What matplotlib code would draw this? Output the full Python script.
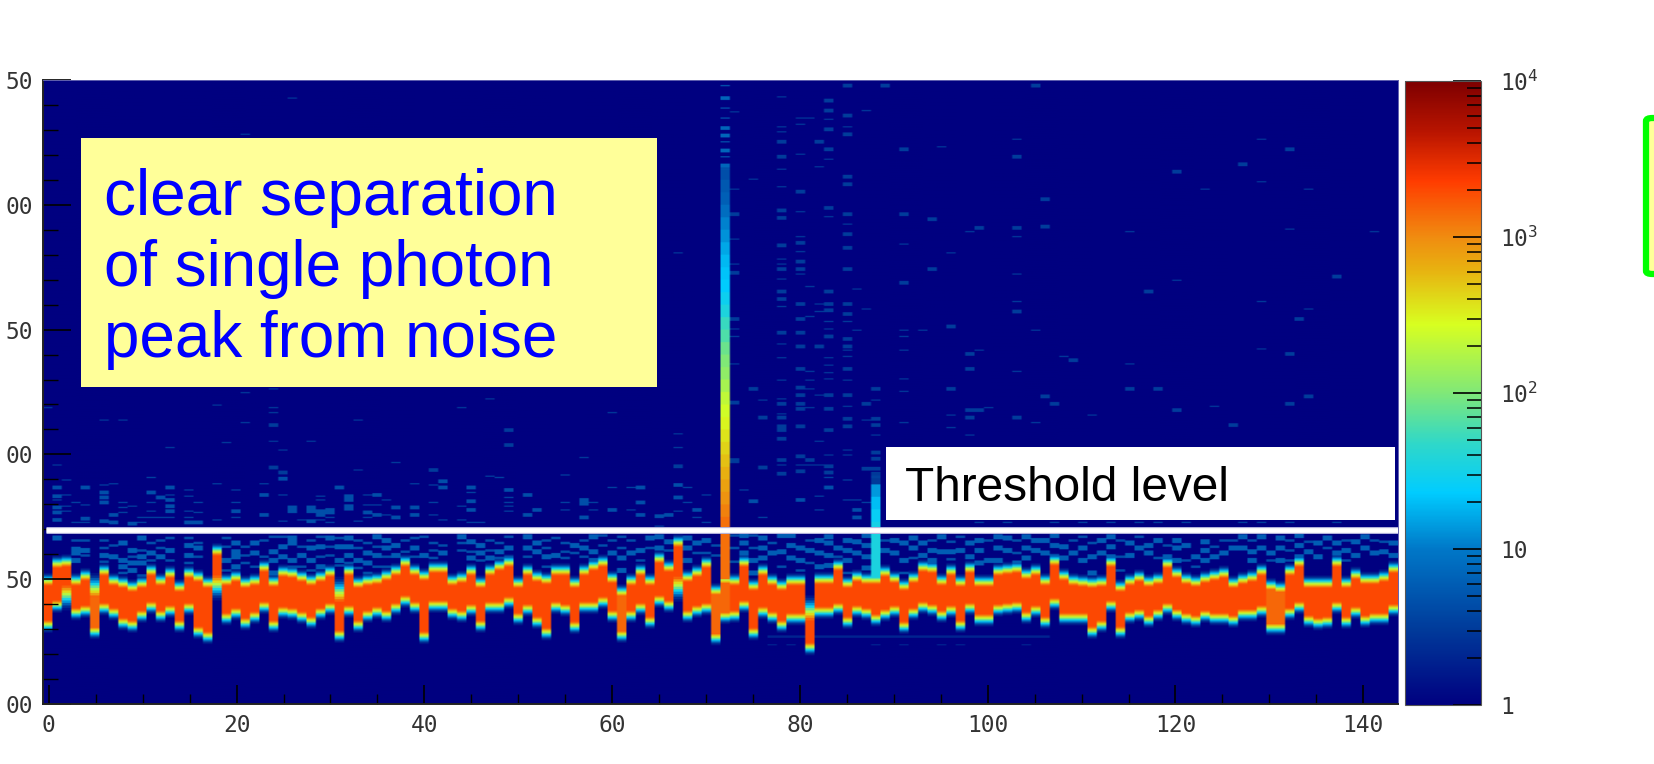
import numpy as np
import matplotlib
matplotlib.use('Agg')
import matplotlib.pyplot as plt
from matplotlib.colors import LinearSegmentedColormap, LogNorm
from matplotlib.patches import Rectangle, FancyBboxPatch
from matplotlib.ticker import LogLocator, MultipleLocator, NullFormatter

# --- data -------------------------------------------------------
band_top = [147.7,154.4,155.0,147.7,149.7,142.4,151.7,147.7,146.4,145.0,146.4,151.7,147.3,150.4,145.0,150.4,
            149.0,146.4,159.7,147.3,149.0,146.4,147.7,153.0,147.0,151.0,150.4,149.0,147.3,149.0,151.0,141.0,
            151.7,146.4,147.7,148.1,149.7,151.7,155.0,151.7,149.7,152.4,152.4,147.7,148.4,151.7,146.4,151.7,
            153.7,154.8,146.4,151.3,149.0,148.1,151.7,151.7,146.4,151.7,153.7,155.0,148.4,143.0,147.7,151.7,
            147.3,156.4,153.0,163.0,149.0,151.0,154.4,143.7,148.0,147.7,155.0,145.7,151.7,147.7,145.7,147.3,
            147.7,133.7,148.1,148.1,153.7,146.4,149.0,148.1,148.1,151.0,148.7,145.5,148.7,153.0,152.4,147.3,
            151.7,146.8,152.4,147.0,147.0,151.3,152.1,152.6,150.0,151.7,147.3,155.7,149.7,147.3,147.0,146.4,
            147.0,155.0,145.0,147.7,149.2,147.0,148.1,154.4,150.4,148.1,147.0,148.7,149.7,150.4,146.4,148.1,
            149.0,151.7,145.7,144.4,151.7,155.0,146.4,146.4,146.4,155.0,146.4,150.0,148.1,148.1,149.0,152.4]
band_bot = [133.7,141.7,147.7,138.4,139.7,131.0,140.4,138.4,134.4,133.7,137.7,141.0,137.7,139.7,133.7,140.4,
            131.0,129.0,151.7,136.4,138.4,134.4,137.0,141.0,133.7,139.0,138.4,137.0,135.0,138.4,140.4,129.7,
            139.7,133.7,137.7,139.0,137.7,140.6,143.7,141.0,129.0,141.4,141.7,138.4,137.7,140.1,133.7,141.0,
            141.0,143.0,136.4,140.1,135.0,130.4,141.0,140.1,133.0,141.0,141.0,143.0,137.7,129.7,137.7,140.4,
            135.0,143.7,141.7,151.0,137.7,139.7,140.4,128.3,137.0,137.7,141.7,130.4,139.0,137.0,133.7,136.6,
            136.6,124.3,139.0,139.0,140.4,135.0,139.7,138.4,136.1,138.0,139.3,133.0,138.4,141.0,140.1,137.7,
            139.3,133.7,140.4,136.1,136.1,140.1,140.4,141.0,137.0,139.7,135.0,142.4,136.6,136.6,136.6,131.0,
            133.7,141.7,131.0,137.2,138.0,135.7,138.0,140.4,138.0,136.6,135.7,137.7,136.6,136.6,135.7,138.0,
            138.0,139.3,132.4,132.4,138.4,141.0,135.3,134.4,135.0,141.0,135.0,139.0,135.7,136.6,136.6,140.1]
core_count = 2000
dull_count = 1450
dull_cols = [5, 61, 71, 72, 130, 131]
edge_counts = [1500, 800, 400, 180, 80, 32, 14, 6, 2.5, 1.5]
slow_top = [5, 31, 81]
slow_bot = [2, 18, 67]

# bright channel 72, steps of 5 starting at 150
spike_col = 72
spike_start = 150
spike_counts = [1320,1320,1320,1320,1320,1100,912,760,630,525,437,363,302,251,209,158,120,100,83,63,52,36,28,23,21,19,16,13,11,8.3,6.3,5.5,4.5]
spike_thin = [347.5,338.5,334.5,325,319,314]
spike_thick = [342.5,330.5,327.5,321.5,315.5]
# weaker channel 88
spike2_col = 88
spike2_y = [148,153,158,163,168,173,178,183,188]
spike2_counts = [35,35,35,35,32,26,20,14,3]

upper_thin = {
 0:[218.5], 1:[195.5,181.5], 2:[189.5,183.5,179,177], 3:[180.5,172.5], 4:[179.5,172.5], 6:[213.5,187.5], 7:[188],
 8:[213.5,180.5,178.5,176.5], 9:[179], 10:[174.5,172.5], 11:[190.5,180.5,177,174.5], 12:[174.5], 13:[202.5,183.5,174.5],
 15:[185.5,183,177,174.5], 16:[180.5,176.5], 18:[219.5,188,173.5], 19:[204.5], 20:[185.5,180.5,174.5], 21:[328,224.5,212.5],
 23:[188], 24:[226,218.5,216.5,205], 25:[201.5,183.5,173], 26:[342.5], 27:[173.5], 28:[205], 29:[183,181.5,173.5],
 30:[174.5,172.5], 33:[213.5,193.5,173], 34:[183.5,179.5,174.5], 35:[179.5], 36:[181.5,175.5], 37:[196.5], 39:[188],
 41:[187.5,180.5,175.5], 42:[173.5], 44:[218.5,179,173.5], 45:[184.5,172.5], 46:[172.5], 47:[222,191], 48:[190.5],
 49:[182.5,180.5,179,177], 55:[191.5,180.5,177.5], 57:[198.5], 58:[180.5,177.5], 60:[216.5,186.5,177.5],
 62:[186.5,177.5], 65:[171], 67:[280.5,208,202.5,177], 68:[186.5,180.5], 69:[174.5], 70:[183.5,172.5],
 73:[337,306,286,276,250,247,236,196.5], 74:[185.5], 75:[310], 76:[221.5,174.5],
 78:[343,331,329,314,307,278,276,270,259,244,238.5,229.5,222,216,195.5],
 80:[334.5,332,320,297,287,281,272,195.5], 81:[334.5,267,255,233,229.5,226,218.5,195.5],
 82:[315,260,257,223.5,205,195.5,183,177.5],
 83:[334,318,295,253,250,238.5,235.5,232.5,230,199.5,190.5],
 85:[331,292,253,241.5,239,229.5,219,201.5,199.5,189.5,181.5], 86:[266,249.5,181.5], 87:[337.5,258,213.5,180.5],
 88:[221.5,207.5,191,190.5], 91:[284,249.5,247,241.5,230,225,212.5], 93:[249.5], 95:[323],
 96:[280.5,215.5,210.5], 98:[289,207.5], 99:[241.5,172.5], 100:[218.5], 102:[172.5],
 103:[326,287,272,261,233], 105:[249.5,212.5], 107:[172.5], 108:[239], 110:[172.5], 111:[215.5], 113:[172.5],
 115:[289,236], 116:[172.5], 118:[172.5], 120:[269.5], 121:[172.5], 123:[306], 124:[219], 127:[172.5],
 129:[326,309,261,242,172.5], 132:[290,172.5], 134:[306,258], 137:[172.5], 141:[289],
}
upper_thick = {
 1:[186.5,183,178.5,176.5,173.5], 4:[186.5,174], 6:[184.5,182.5,180.5,173], 7:[175.5,172.5], 9:[172], 11:[184.5],
 12:[182.5], 13:[186.5,181.5,179,177], 15:[172.5], 16:[172.5], 20:[177], 23:[183.5,175.5], 24:[211.5,194.5],
 25:[192.5,190], 26:[178.5,177], 28:[178.5,177,173], 29:[177,175.5], 30:[177.5,176.5], 31:[186.5], 32:[183,181.5,179,178],
 34:[176.5], 35:[183.5,175.5], 37:[178.5,174.5], 39:[178.5,175.5], 41:[193.5], 42:[189,186.5], 45:[186.5,181,177.5],
 49:[209.5,203.5,185.5], 51:[183.5,175.5], 52:[177.5], 57:[181.5,180,174.5], 60:[177.5], 63:[186.5,180.5,175.5],
 65:[175], 66:[175.5], 67:[195,187.5,182.5], 69:[177.5], 73:[296,272.5,254,220.5,197.5], 75:[226,181], 76:[214.5,194.5],
 78:[325,319,297.5,294.5,283.5,274,265,262,248.5,220,214.5,211,209.5,206,197.5,192],
 80:[305,284.5,277,274,260,254,248.5,243,234,226.5,223.5,220,218,211,199,193,181.5],
 81:[197.5], 82:[325,243], 83:[341.5,337.5,330,322,298.5,265,260,257.5,247,223.5,218,209.5,195,192.5,186.5],
 85:[347.5,335.5,328,311,308,296,288,282.5,274,260,256,246,243,234,223.5,214,211], 86:[177.5,174.5], 87:[220,194],
 88:[226,214,211.5,200.5,198,194,181], 89:[347.5], 91:[322,296,268.5], 94:[294,274], 96:[251,226],
 98:[240,234,217.5,214.5], 99:[290.5,217.5], 103:[319,290.5,257,214.5], 105:[347.5], 106:[302,291,223], 107:[220],
 109:[237.5], 115:[226], 117:[265], 118:[226], 120:[313,217.5], 126:[211.5], 127:[316], 132:[322,240,220], 133:[254],
 134:[223], 137:[271],
}
low_thin = {
 3:[165.5], 4:[165.5,159.5], 6:[165.5,162.5,157], 7:[163.5], 8:[152.5], 9:[159], 10:[161.5,151.5], 11:[164.5,157.5],
 12:[165.5,162.5], 13:[166.5,157.5], 15:[166.5,156.5], 16:[164.5,159], 19:[166.5,163,153.5], 21:[163,159.5,156.5],
 22:[155], 23:[165.5,159], 24:[167], 25:[167], 26:[155], 27:[163,155], 28:[165.5,153.5], 29:[167,159], 30:[163,159.5],
 31:[166.5,155.5], 32:[156.5], 33:[165.5,162.5,154.5], 34:[164.5,152.5], 35:[163,155], 36:[159,155], 38:[165.5,161],
 39:[166.5,159], 40:[167], 41:[164.5,161.5,158.5], 42:[163.5], 44:[164.5,161.5], 45:[161], 46:[157.5], 47:[165.5,161.5],
 48:[164.5,158.5], 49:[167,159], 51:[159], 53:[165.5,162.5,155], 54:[166.5], 55:[164.5,161,158.5], 56:[160.5],
 57:[165.5,159], 59:[167.5,163.5], 60:[165.5], 61:[167,162.5], 62:[165.5], 63:[157.5], 64:[162.5], 66:[161.5],
 69:[160.5], 70:[160.5], 71:[163.5,159.5], 73:[167.5,162.5,157], 75:[167.5,162.5], 76:[155], 77:[164.5], 78:[155],
 80:[153.5], 81:[165.5,156.5], 82:[151.5], 84:[159], 85:[152.5], 89:[165.5], 91:[152.5], 92:[158.5], 94:[165.5],
 96:[165,158], 97:[167], 100:[165.5], 103:[165.5,160.5], 109:[165.5], 110:[167], 111:[164.5], 114:[165.5,159,153.5],
 116:[167], 118:[158.5], 119:[163.5], 121:[157.5], 122:[155], 124:[163], 125:[165.5], 126:[165.5], 128:[165.5],
 130:[157.5], 132:[165.5,161.5,157.5], 134:[165], 136:[162.5], 138:[165.5,157.5], 141:[165.5], 142:[165],
}
low_thick = {
 1:[166.5], 3:[162,160.5,157.5], 4:[161.5], 6:[159.5], 7:[159], 8:[164.5,157.5,155], 9:[161.5,156.5,153.5],
 10:[166.5,159,156.5], 11:[160.5], 12:[159], 13:[161.5], 15:[163.5,159.5], 16:[162.5], 19:[157.5], 20:[164.5,161,159,155],
 22:[164.5,160.5], 24:[161,157.5,152.5], 25:[163,159], 26:[166.5,164.5,157.5], 27:[159.5], 28:[162.5,157.5], 29:[163,155],
 30:[166.5], 31:[163,157.5], 32:[166.5,163,159.5], 33:[157.5], 34:[160.5,156.5], 35:[167,159.5], 36:[165.5,162.5],
 37:[163.5,159.5], 39:[162.5], 40:[159.5], 42:[160.5], 44:[167], 45:[165,158.5], 46:[163.5,160.5], 47:[158.5], 48:[161],
 49:[162.5], 51:[167,162.5], 52:[164.5,161], 53:[159], 54:[159.5], 56:[163.5], 57:[162.5], 58:[167,161,157.5], 60:[160.5],
 61:[158.5,153.5], 62:[160.5], 63:[161.5], 64:[166.5], 65:[167,162.5], 66:[165], 68:[166.5,162.5,157.5], 69:[164.5],
 70:[165.5], 74:[167.5,164.5,160.5], 75:[157.5,152.5], 76:[166.5,162.5,158.5], 77:[160.5], 78:[167.5,161],
 79:[167.5,163.5,158.5], 80:[162.5,157.5], 81:[161.5], 82:[165.5,160.5,155], 83:[167,164.5,159.5,155.5], 84:[162.5],
 85:[165.5,161.5,157.5], 86:[165,160.5], 87:[167.5,163.5,159,154.5], 89:[161.5], 90:[165.5,160.5], 91:[164.5,157.5],
 92:[166.5,162.5], 93:[164.5,159.5], 94:[161.5,157.5], 95:[167,161], 96:[161], 97:[161.5], 98:[164.5,159],
 99:[165.5,161.5,156.5], 100:[157.5], 101:[167,162.5,157.5], 102:[166.5,161.5], 103:[156.5], 104:[167,162.5,158.5],
 105:[165.5,161.5], 106:[165.5,160.5], 107:[167.5,163.5,159], 108:[163,158.5], 109:[160.5], 110:[162.5,157.5],
 111:[159,152.5], 112:[165.5,160.5], 113:[167,163,159], 115:[164.5,159.5], 116:[162.5], 117:[163.5,160.5], 118:[165.5],
 119:[159], 120:[165.5,162.5,157.5], 121:[163.5], 122:[159], 123:[165,161.5,157.5], 124:[159], 125:[160.5], 126:[162.5],
 127:[167,162.5], 128:[161,157.5], 129:[167,162.5], 130:[160.5], 131:[166.5,162.5,157.5], 133:[167.5,163.5,159],
 134:[161], 135:[164.5,159], 136:[166.5], 137:[164.5,160.5], 138:[161.5], 139:[165,159.5], 140:[167,162.5], 141:[160.5],
 142:[161], 143:[164.5,159.5],
}
faint_line_cols = list(range(77, 107))
faint_line_y = 126.5
faint_dash_cols = [77, 79, 81, 88, 91, 95, 97, 104]
faint_dash_y = 123.5

threshold_y = 169.7
x_ticks = [0, 20, 40, 60, 80, 100, 120, 140]
y_ticks = [100, 150, 200, 250, 300, 350]
y_labels = ['00', '50', '00', '50', '00', '50']
z_ticks = [1, 10, 100, 1000, 10000]
z_labels = ['1', '10', r'$\mathdefault{10^{2}}$', r'$\mathdefault{10^{3}}$', r'$\mathdefault{10^{4}}$']
note_lines = ['clear separation', 'of single photon', 'peak from noise']

# --- histogram ---------------------------------------------------
n_rows, n_cols = 500, 144
x_left = -0.62
x_right = x_left + n_cols * 1.0022
z = np.ones((n_rows, n_cols))


def row(y):
    return int(round((y - 100) / 0.5))


def put(col, r, count):
    if 0 <= r < n_rows:
        z[r, col] = max(z[r, col], count)


# hits: (thin or thick, count below 192, count above)
for d, rows_high, near, far in [(upper_thin, 1, 3.5, 3), (upper_thick, 3, 4.5, 3.2), (low_thin, 2, 4.5, 4.5), (low_thick, 4, 6, 6)]:
    for col, ys in d.items():
        for y in ys:
            count = near if y < 192 else far
            for i in range(rows_high):
                put(col, row(y) + i - rows_high // 2, count)

for col in faint_line_cols:
    put(col, row(faint_line_y), 2)
    put(col, row(faint_line_y) + 1, 2)
for col in faint_dash_cols:
    put(col, row(faint_dash_y), 2)

for col in range(n_cols):
    top, bot = row(band_top[col]), row(band_bot[col])
    core = dull_count if col in dull_cols else core_count
    for r in range(bot, top):
        put(col, r, core)
    for i, c in enumerate(edge_counts):
        if col in slow_top:
            put(col, top + 2 * i, c)
            put(col, top + 2 * i + 1, c)
        else:
            put(col, top + i, c)
        if col in slow_bot:
            put(col, bot - 1 - 2 * i, c)
            put(col, bot - 2 - 2 * i, c)
        else:
            put(col, bot - 1 - i, c)

for i, c in enumerate(spike_counts):
    for r in range(row(spike_start + i * 5), row(spike_start + (i + 1) * 5)):
        put(spike_col, r, c)
for y in spike_thin:
    put(spike_col, row(y), 5)
for y in spike_thick:
    for i in range(3):
        put(spike_col, row(y) + i - 1, 7)
for i, c in enumerate(spike2_counts):
    for r in range(row(spike2_y[i]), row(spike2_y[i] + 5)):
        put(spike2_col, r, c)

# --- colours -----------------------------------------------------
stops = [(0.0, '#000080'), (0.12, '#003a9a'), (0.25, '#0078c8'), (0.34, '#00ccff'), (0.42, '#30d8c8'),
         (0.50, '#80e878'), (0.61, '#d8ff20'), (0.70, '#e8b010'), (0.75, '#f08c10'), (0.84, '#ff3c00'),
         (0.92, '#b81400'), (1.0, '#7e0000')]
cmap = LinearSegmentedColormap.from_list('root_jet', stops, N=512)
norm = LogNorm(1, 1e4)

# --- figure ------------------------------------------------------
W, H = 1654, 764
plt.rcParams['font.family'] = ['DejaVu Sans Mono']
fig = plt.figure(figsize=(W / 100, H / 100), dpi=100)


def px_rect(x0, y0, x1, y1):
    return [x0 / W, 1 - y1 / H, (x1 - x0) / W, (y1 - y0) / H]


ax = fig.add_axes(px_rect(43, 80, 1398, 704))
# repeated sideways so the soft edge of the screenshot stays narrow
mesh = ax.imshow(np.repeat(z, 5, axis=1), extent=(x_left, x_right, 100, 350), origin='lower', aspect='auto',
                 cmap=cmap, norm=norm, interpolation='bilinear', interpolation_stage='rgba')
ax.set_xlim(-0.62, 143.7)
ax.set_ylim(100, 350)
ax.plot([-0.3, 143.7], [threshold_y, threshold_y], color='#b4b4dc', lw=5.0, solid_capstyle='butt')
ax.plot([-0.3, 143.7], [threshold_y, threshold_y], color='white', lw=3.4, solid_capstyle='butt')

ax.set_xticks(x_ticks)
ax.xaxis.set_minor_locator(MultipleLocator(5))
ax.set_yticks(y_ticks, labels=y_labels)
ax.yaxis.set_minor_locator(MultipleLocator(10))
ax.tick_params(axis='x', which='major', direction='in', length=13.5, width=1.2, pad=7, labelsize=16.5, colors='black', labelcolor='#333333')
ax.tick_params(axis='x', which='minor', direction='in', length=7, width=1.0)
ax.tick_params(axis='y', which='major', direction='in', length=20, width=1.2, pad=7, labelsize=16.5, labelcolor='#333333')
ax.tick_params(axis='y', which='minor', direction='in', length=10.5, width=1.0)
for side in ['top', 'right']:
    ax.spines[side].set_color('#6060b0')
    ax.spines[side].set_linewidth(0.7)
for side in ['left', 'bottom']:
    ax.spines[side].set_color('#222222')
    ax.spines[side].set_linewidth(1.4)

cax = fig.add_axes(px_rect(1405, 81, 1481, 705))
cbar = fig.colorbar(mesh, cax=cax)
cbar.set_ticks(z_ticks, labels=z_labels)
cax.yaxis.set_minor_locator(LogLocator(base=10, subs=range(2, 10), numticks=12))
cax.yaxis.set_minor_formatter(NullFormatter())
cax.tick_params(axis='y', which='major', direction='in', length=20, width=1.2, pad=14, labelsize=16.5, labelcolor='#333333')
cax.tick_params(axis='y', which='minor', direction='in', length=10, width=1.1)
cbar.outline.set_edgecolor('#555555')
cbar.outline.set_linewidth(0.8)

# --- boxes drawn over the picture --------------------------------
def fx(px):
    return px / W


def fy(py):
    return 1 - py / H


fig.add_artist(Rectangle((fx(81), fy(387)), 575.5 / W, 249 / H, transform=fig.transFigure, facecolor='#ffff99', edgecolor='none', zorder=5))
for line, py in zip(note_lines, [215, 286, 357]):
    fig.text(fx(104), fy(py), line, color='#0000ff', family='Liberation Sans', fontsize=45.9, va='baseline', ha='left', zorder=6)

fig.add_artist(Rectangle((fx(886), fy(520)), 509 / W, 73 / H, transform=fig.transFigure, facecolor='white', edgecolor='none', zorder=5))
fig.text(fx(905), fy(501), 'Threshold level', color='black', family='Liberation Sans', fontsize=34.4, va='baseline', ha='left', zorder=6)

fig.add_artist(FancyBboxPatch((fx(1646), fy(274)), 30 / W, 156 / H, boxstyle='round,pad=0,rounding_size=0.004',
                              transform=fig.transFigure, facecolor='#ffff99', edgecolor='#00ff00', linewidth=4.5, zorder=5))

fig.savefig('out.png', dpi=100)
